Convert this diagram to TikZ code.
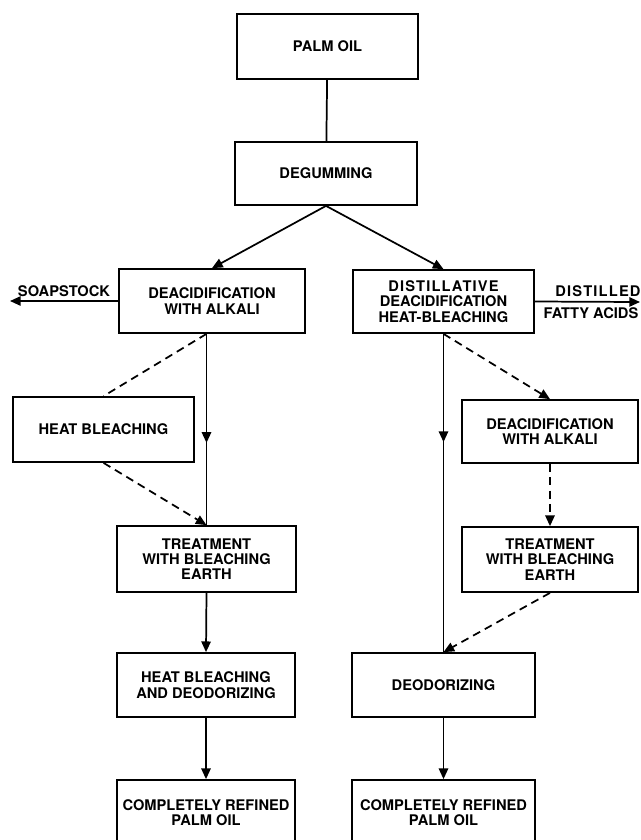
\documentclass[tikz,border=0pt]{standalone}
\usepackage{fontspec}
\setmainfont{TeX Gyre Heros}
\usetikzlibrary{arrows.meta,decorations.markings,calc}
\begin{document}
\begin{tikzpicture}[x=0.75pt,y=-0.75pt,
  box/.style={draw,line width=1.3pt,align=center,inner sep=0pt,
    font=\fontsize{11}{11.5}\selectfont\bfseries},
  bx/.style 2 args={minimum width=#1*0.75pt,minimum height=#2*0.75pt},
  lbl/.style={inner sep=0pt,font=\fontsize{11}{11.5}\selectfont\bfseries},
  conn/.style={line width=1.3pt},
  tip/.style={-{Triangle[length=8pt,width=7pt]}},
  dsh/.style={dash pattern=on 6pt off 4pt},
  midarrow/.style={postaction={decorate},decoration={markings,
    mark=at position #1 with {\arrow{Triangle[length=8pt,width=7pt]}}}}
]
\useasboundingbox (0,0) rectangle (640,840);

% nodes
\node[box,bx={181}{65}] (palm) at (327.5,46.5) {PALM OIL};
\node[box,bx={182}{63}] (degum) at (326,173.5) {DEGUMMING};
\node[box,bx={186}{64}] (deacidL) at (212,301) {DEACIDIFICATION\\WITH ALKALI};
\node[box,bx={181}{63}] (distR) at (443.5,301.5) {\addfontfeatures{LetterSpace=8}DISTILLATIVE\\DEACIDIFICATION\\HEAT-BLEACHING};
\node[box,bx={181}{65}] (heatB) at (103.5,429.5) {HEAT BLEACHING};
\node[box,bx={179}{66}] (treatL) at (206.5,559) {TREATMENT\\WITH BLEACHING\\EARTH};
\node[box,bx={176}{63}] (deacidR) at (550,431.5) {DEACIDIFICATION\\WITH ALKALI};
\node[box,bx={176}{65}] (treatR) at (550,559.5) {TREATMENT\\WITH BLEACHING\\EARTH};
\node[box,bx={178}{64}] (hbd) at (206,685) {HEAT BLEACHING\\AND DEODORIZING};
\node[box,bx={183}{64}] (deod) at (443.5,685) {DEODORIZING};
\node[box,bx={178}{65}] (cpL) at (206,812.5) {COMPLETELY REFINED\\PALM OIL};
\node[box,bx={183}{65}] (cpR) at (443.5,812.5) {COMPLETELY REFINED\\PALM OIL};

% side outputs
\coordinate (soapEnd) at (10,301);
\coordinate (fattyEnd) at (640,302);
\node[lbl] (soap) at (64,291) {SOAPSTOCK};
\node[lbl] (dist) at (598,291) {\addfontfeatures{LetterSpace=8}DISTILLED};
\node[lbl] (fatty) at (591,313) {FATTY ACIDS};

% connectors
\draw[conn] (palm) -- (degum);
\draw[conn,tip] (degum.south) -- (deacidL.north);
\draw[conn,tip] (degum.south) -- (distR.north);
\draw[conn,tip] (deacidL.west) -- (soapEnd);
\draw[conn,tip] (distR.east) -- (fattyEnd);

% left branch
\draw[conn,midarrow=0.57] (deacidL.south -| treatL.north) -- (treatL.north);
\draw[conn,dsh] (deacidL.south -| treatL.north) -- (heatB.north);
\draw[conn,dsh,tip] (heatB.south) -- (treatL.north);
\draw[conn,tip] (treatL.south) -- (hbd.north);
\draw[conn,tip] (hbd.south) -- (cpL.north);

% right branch
\draw[conn,midarrow=0.34] (distR.south) -- (deod.north);
\draw[conn,dsh,tip] (distR.south) -- (deacidR.north);
\draw[conn,dsh,tip] (deacidR.south) -- (treatR.north);
\draw[conn,dsh,tip] (treatR.south) -- (deod.north);
\draw[conn,tip] (deod.south) -- (cpR.north);
\end{tikzpicture}
\end{document}
